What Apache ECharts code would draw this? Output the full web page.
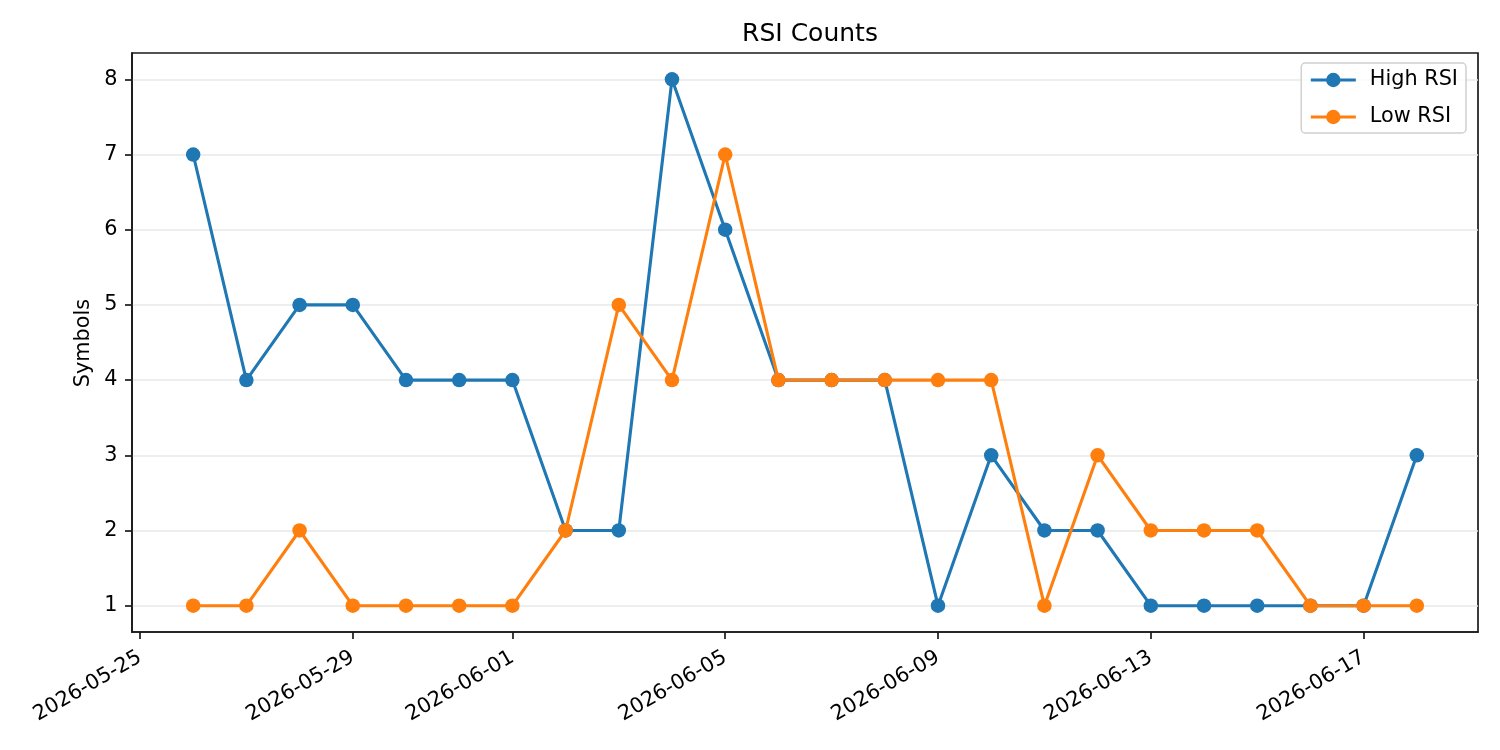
<!DOCTYPE html>
<html>
<head>
<meta charset="utf-8">
<script src="https://cdn.jsdelivr.net/npm/echarts@6.0.0/dist/echarts.min.js"></script>
<style>
  html, body { margin: 0; padding: 0; background: #fff; }
  #chart { width: 1500px; height: 750px; }
</style>
</head>
<body>
<div id="chart"></div>
<script>
const dates = [
  "2026-05-26", "2026-05-27", "2026-05-28", "2026-05-29", "2026-05-30", "2026-05-31",
  "2026-06-01", "2026-06-02", "2026-06-03", "2026-06-04", "2026-06-05", "2026-06-06",
  "2026-06-07", "2026-06-08", "2026-06-09", "2026-06-10", "2026-06-11", "2026-06-12",
  "2026-06-13", "2026-06-14", "2026-06-15", "2026-06-16", "2026-06-17", "2026-06-18"
];
const highRsi = [7, 4, 5, 5, 4, 4, 4, 2, 2, 8, 6, 4, 4, 4, 1, 3, 2, 2, 1, 1, 1, 1, 1, 3];
const lowRsi  = [1, 1, 2, 1, 1, 1, 1, 2, 5, 4, 7, 4, 4, 4, 4, 4, 1, 3, 2, 2, 2, 1, 1, 1];
const xTickDates = ["2026-05-25", "2026-05-29", "2026-06-01", "2026-06-05", "2026-06-09", "2026-06-13", "2026-06-17"];
const yTicks = [1, 2, 3, 4, 5, 6, 7, 8];

// x positions are days counted from 2026-05-25 (UTC)
const DAY = 86400000;
const base = Date.UTC(2026, 4, 25);
const toDay = s => {
  const p = s.split("-").map(Number);
  return (Date.UTC(p[0], p[1] - 1, p[2]) - base) / DAY;
};
const fromDay = d => new Date(base + Math.round(d) * DAY).toISOString().slice(0, 10);

const xTicks = xTickDates.map(toDay);
const highData = dates.map((d, i) => [toDay(d), highRsi[i]]);
const lowData = dates.map((d, i) => [toDay(d), lowRsi[i]]);

const font = "'DejaVu Sans', sans-serif";
const axisColor = "#1a1a1a";
const chart = echarts.init(document.getElementById("chart"), null, { renderer: "canvas" });

const line = (name, color, data) => ({
  name: name,
  type: "line",
  data: data,
  symbol: "circle",
  symbolSize: 14.5,
  showSymbol: true,
  animation: false,
  z: name === "Low RSI" ? 3 : 2,
  itemStyle: { color: color },
  lineStyle: { color: color, width: 3.1 }
});

chart.setOption({
  animation: false,
  title: {
    text: "RSI Counts",
    left: 805,
    top: 17,
    textAlign: "center",
    textStyle: { fontFamily: font, fontSize: 25, fontWeight: "normal", color: "#000" }
  },
  // y axis title, placed like matplotlib's ylabel
  graphic: [{
    type: "text",
    x: 84,
    y: 343,
    rotation: Math.PI / 2,
    style: {
      text: "Symbols",
      fontFamily: font,
      fontSize: 20.8,
      fill: "#000",
      align: "center",
      verticalAlign: "middle"
    }
  }],
  grid: {
    left: 132, right: 22, top: 53, bottom: 118,
    show: true, borderColor: axisColor, borderWidth: 1.7, backgroundColor: "transparent"
  },
  legend: {
    orient: "vertical",
    right: 34,
    top: 63,
    padding: [5, 8, 4, 8],
    itemGap: 13,
    itemWidth: 45,
    itemHeight: 18,
    borderColor: "#d0d0d0",
    borderWidth: 1.5,
    borderRadius: 4,
    backgroundColor: "rgba(255,255,255,0.8)",
    lineStyle: { width: 3.1 },
    textStyle: { fontFamily: font, fontSize: 20.8, lineHeight: 24, color: "#000", padding: [0, 0, 0, 9] },
    data: ["High RSI", "Low RSI"]
  },
  xAxis: {
    type: "value",
    min: -0.15,
    max: 25.15,
    splitLine: { show: false },
    axisLine: { show: true, onZero: false, lineStyle: { color: axisColor, width: 1.7 } },
    axisTick: { show: true, length: 7, customValues: xTicks, lineStyle: { color: axisColor, width: 1.7 } },
    axisLabel: {
      customValues: xTicks,
      rotate: 30,
      margin: 24,
      fontFamily: font,
      fontSize: 20.8,
      color: "#000",
      formatter: v => fromDay(v)
    }
  },
  yAxis: {
    type: "value",
    min: 0.65,
    max: 8.35,
    axisLine: { show: true, onZero: false, lineStyle: { color: axisColor, width: 1.7 } },
    axisTick: { show: true, length: 7, customValues: yTicks, lineStyle: { color: axisColor, width: 1.7 } },
    axisLabel: { customValues: yTicks, margin: 14.6, fontFamily: font, fontSize: 20.8, color: "#000" },
    splitLine: { show: true, customValues: yTicks, lineStyle: { color: "#e8e8e8", width: 1.5 } }
  },
  series: [
    line("High RSI", "#1f77b4", highData),
    line("Low RSI", "#ff7f0e", lowData)
  ]
});
</script>
</body>
</html>
